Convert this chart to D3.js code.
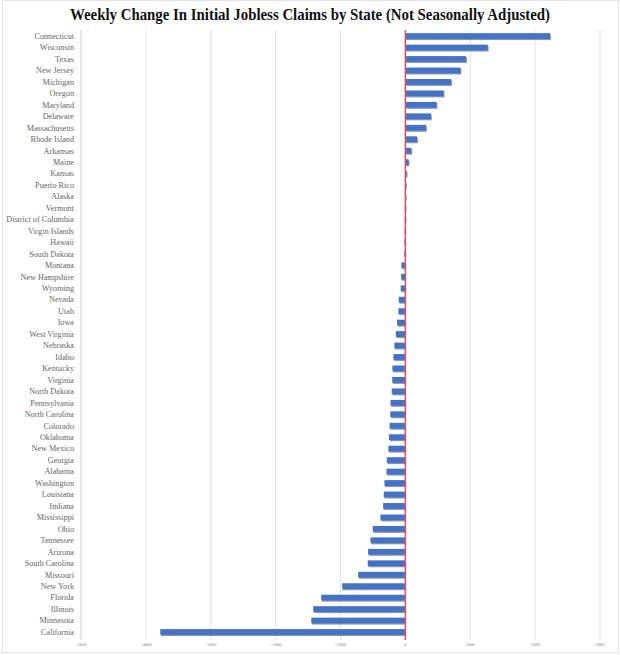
<!DOCTYPE html>
<html>
<head>
<meta charset="utf-8">
<script src="https://cdn.jsdelivr.net/npm/d3@7"></script>
<style>
  body { margin: 0; background: #fff; }
</style>
</head>
<body>
<div id="chart"></div>
<script>
// states, top to bottom
const states = ["Connecticut", "Wisconsin", "Texas", "New Jersey", "Michigan", "Oregon", "Maryland",
  "Delaware", "Massachusetts", "Rhode Island", "Arkansas", "Maine", "Kansas", "Puerto Rico", "Alaska",
  "Vermont", "District of Columbia", "Virgin Islands", "Hawaii", "South Dakota", "Montana",
  "New Hampshire", "Wyoming", "Nevada", "Utah", "Iowa", "West Virginia", "Nebraska", "Idaho",
  "Kentucky", "Virginia", "North Dakota", "Pennsylvania", "North Carolina", "Colorado", "Oklahoma",
  "New Mexico", "Georgia", "Alabama", "Washington", "Louisiana", "Indiana", "Mississippi", "Ohio",
  "Tennessee", "Arizona", "South Carolina", "Missouri", "New York", "Florida", "Illinois",
  "Minnesota", "California"];

// weekly change in claims
const changes = [2230, 1270, 935, 850, 705, 590, 480, 395, 318, 180, 92, 50, 20, 5, -5,
  -8, -10, -12, -14, -16, -62, -65, -72, -103, -108, -128, -148, -170, -185,
  -200, -203, -210, -230, -233, -243, -253, -262, -287, -292, -323, -333, -343, -385, -503,
  -538, -575, -580, -728, -974, -1297, -1420, -1451, -3778];

const xTicks = [-5000, -4000, -3000, -2000, -1000, 0, 1000, 2000, 3000];

const width = 620, height = 655;
const svg = d3.select("#chart").append("svg")
  .attr("width", width)
  .attr("height", height);

// light frame round the picture
svg.append("rect")
  .attr("x", 2.5).attr("y", 0.5)
  .attr("width", width - 4).attr("height", height - 3)
  .attr("fill", "none")
  .attr("stroke", "#e4e4e4");

svg.append("text")
  .attr("x", 310).attr("y", 20)
  .attr("text-anchor", "middle")
  .attr("font-family", "Liberation Serif, serif")
  .attr("font-weight", "bold")
  .attr("font-size", 16)
  .attr("textLength", 480)
  .attr("lengthAdjust", "spacingAndGlyphs")
  .attr("fill", "#111")
  .text("Weekly Change In Initial Jobless Claims by State (Not Seasonally Adjusted)");

const x = d3.scaleLinear().domain([-5000, 3000]).range([81, 600]);
const y = d3.scaleBand().domain(states).range([30.3, 637.7])
  .paddingInner(0.5).paddingOuter(0.25);

// gridlines
svg.append("g")
  .selectAll("line")
  .data(xTicks)
  .join("line")
  .attr("x1", d => x(d)).attr("x2", d => x(d))
  .attr("y1", 30).attr("y2", 640)
  .attr("stroke", d => d === -5000 ? "#d0d0d0" : "#e2e2e2")
  .attr("stroke-width", 1);

// bars, with a soft shadow like the original
const bars = svg.append("g");
bars.selectAll("rect.shadow")
  .data(changes)
  .join("rect")
  .attr("class", "shadow")
  .attr("x", d => Math.min(x(d), x(0)) + 0.8)
  .attr("y", (d, i) => y(states[i]) + 1.2)
  .attr("width", d => Math.max(Math.abs(x(d) - x(0)), 0.8))
  .attr("height", y.bandwidth())
  .attr("fill", "#2a3f6e")
  .attr("opacity", 0.55);

bars.selectAll("rect.bar")
  .data(changes)
  .join("rect")
  .attr("class", "bar")
  .attr("x", d => Math.min(x(d), x(0)))
  .attr("y", (d, i) => y(states[i]))
  .attr("width", d => Math.max(Math.abs(x(d) - x(0)), 0.8))
  .attr("height", y.bandwidth())
  .attr("fill", "#4472c4");

// zero line
svg.append("line")
  .attr("x1", x(0)).attr("x2", x(0))
  .attr("y1", 30).attr("y2", 640)
  .attr("stroke", "#e0505e")
  .attr("stroke-width", 1.5);

// state labels
svg.append("g")
  .selectAll("text")
  .data(states)
  .join("text")
  .attr("x", 74)
  .attr("y", d => y(d) + y.bandwidth() / 2)
  .attr("dy", "0.35em")
  .attr("text-anchor", "end")
  .attr("font-family", "Liberation Serif, serif")
  .attr("font-size", 8.2)
  .attr("fill", "#666")
  .text(d => d);

// x axis labels
svg.append("g")
  .selectAll("text")
  .data(xTicks)
  .join("text")
  .attr("x", d => x(d))
  .attr("y", 646)
  .attr("text-anchor", "middle")
  .attr("font-family", "Liberation Serif, serif")
  .attr("font-size", 4.5)
  .attr("fill", "#888")
  .text(d => d3.format("d")(d));
</script>
</body>
</html>
